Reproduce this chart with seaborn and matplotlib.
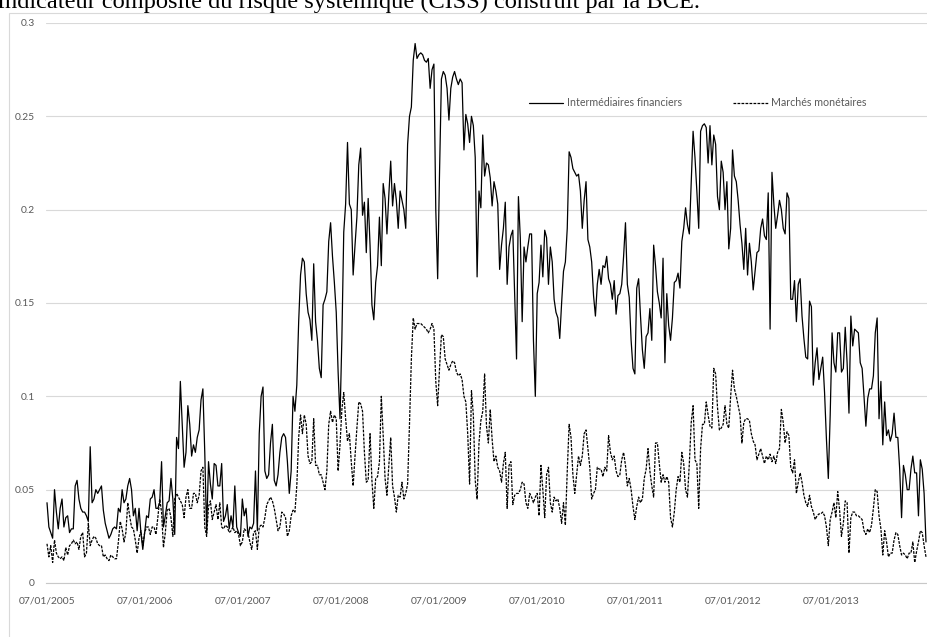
import pandas as pd
import matplotlib
matplotlib.use("Agg")
import matplotlib.pyplot as plt
import matplotlib.dates as mdates
from matplotlib.patches import Rectangle
import seaborn as sns

# CISS sub-indices, weekly values (Friday) from 07/01/2005
fin_2005 = [0.043, 0.030, 0.027, 0.024, 0.050, 0.038, 0.029, 0.040, 0.045, 0.030,
            0.035, 0.036, 0.027, 0.029, 0.029, 0.052, 0.055, 0.045, 0.040, 0.038,
            0.038, 0.036, 0.033, 0.073, 0.043, 0.045, 0.050, 0.048, 0.050, 0.052,
            0.039, 0.032, 0.028, 0.024, 0.026, 0.029, 0.030, 0.029, 0.040, 0.038,
            0.050, 0.043, 0.045, 0.052, 0.056, 0.050, 0.036, 0.040, 0.028, 0.040,
            0.027, 0.018]
fin_2006 = [0.027, 0.036, 0.035, 0.045, 0.046, 0.050, 0.040, 0.040, 0.043, 0.065,
            0.030, 0.036, 0.043, 0.044, 0.056, 0.045, 0.026, 0.078, 0.072, 0.108,
            0.085, 0.062, 0.070, 0.095, 0.085, 0.068, 0.074, 0.070, 0.078, 0.082,
            0.098, 0.104, 0.070, 0.027, 0.065, 0.053, 0.045, 0.064, 0.063, 0.052,
            0.052, 0.064, 0.033, 0.036, 0.042, 0.029, 0.036, 0.030, 0.052, 0.030,
            0.027, 0.025]
fin_2007 = [0.045, 0.036, 0.040, 0.025, 0.030, 0.029, 0.032, 0.060, 0.028, 0.080,
            0.100, 0.105, 0.060, 0.056, 0.058, 0.075, 0.085, 0.055, 0.052, 0.058,
            0.070, 0.078, 0.080, 0.078, 0.065, 0.048, 0.060, 0.100, 0.092, 0.106,
            0.140, 0.165, 0.174, 0.172, 0.155, 0.145, 0.141, 0.130, 0.171, 0.140,
            0.130, 0.115, 0.110, 0.149, 0.152, 0.156, 0.183, 0.193, 0.175, 0.161,
            0.145, 0.113]
fin_2008 = [0.088, 0.131, 0.188, 0.203, 0.236, 0.203, 0.200, 0.165, 0.181, 0.196,
            0.224, 0.233, 0.197, 0.204, 0.177, 0.206, 0.181, 0.149, 0.141, 0.161,
            0.170, 0.196, 0.170, 0.214, 0.206, 0.187, 0.208, 0.226, 0.202, 0.214,
            0.205, 0.190, 0.210, 0.205, 0.200, 0.190, 0.235, 0.250, 0.255, 0.280,
            0.289, 0.281, 0.283, 0.284, 0.283, 0.280, 0.279, 0.281, 0.265, 0.275,
            0.278, 0.200]
fin_2009 = [0.163, 0.220, 0.270, 0.274, 0.272, 0.265, 0.248, 0.265, 0.271, 0.274,
            0.270, 0.267, 0.270, 0.268, 0.232, 0.251, 0.246, 0.236, 0.250, 0.245,
            0.228, 0.164, 0.210, 0.201, 0.240, 0.218, 0.225, 0.224, 0.217, 0.202,
            0.215, 0.210, 0.203, 0.168, 0.181, 0.190, 0.204, 0.160, 0.180, 0.186,
            0.189, 0.155, 0.120, 0.207, 0.185, 0.140, 0.180, 0.172, 0.180, 0.187,
            0.187, 0.130]
fin_2010 = [0.100, 0.155, 0.161, 0.181, 0.164, 0.189, 0.185, 0.160, 0.180, 0.172,
            0.152, 0.145, 0.142, 0.131, 0.150, 0.167, 0.172, 0.190, 0.231, 0.228,
            0.222, 0.220, 0.218, 0.219, 0.210, 0.190, 0.205, 0.215, 0.184, 0.180,
            0.172, 0.154, 0.143, 0.160, 0.168, 0.160, 0.170, 0.169, 0.175, 0.163,
            0.160, 0.152, 0.162, 0.144, 0.154, 0.155, 0.160, 0.175, 0.193, 0.160,
            0.153, 0.130, 0.115]
fin_2011 = [0.112, 0.158, 0.163, 0.143, 0.125, 0.115, 0.132, 0.134, 0.147, 0.130,
            0.181, 0.170, 0.156, 0.150, 0.142, 0.174, 0.118, 0.155, 0.138, 0.130,
            0.142, 0.161, 0.162, 0.166, 0.158, 0.183, 0.190, 0.201, 0.192, 0.187,
            0.215, 0.242, 0.228, 0.210, 0.190, 0.242, 0.245, 0.246, 0.244, 0.225,
            0.245, 0.224, 0.240, 0.235, 0.207, 0.200, 0.226, 0.220, 0.200, 0.215,
            0.179, 0.190]
fin_2012 = [0.232, 0.218, 0.215, 0.205, 0.192, 0.182, 0.168, 0.190, 0.165, 0.182,
            0.172, 0.157, 0.167, 0.177, 0.178, 0.190, 0.195, 0.186, 0.184, 0.209,
            0.136, 0.220, 0.203, 0.190, 0.197, 0.205, 0.200, 0.190, 0.187, 0.209,
            0.206, 0.152, 0.152, 0.162, 0.140, 0.160, 0.163, 0.143, 0.131, 0.121,
            0.120, 0.151, 0.148, 0.106, 0.118, 0.126, 0.109, 0.115, 0.121, 0.102,
            0.077, 0.056]
fin_2013 = [0.090, 0.134, 0.118, 0.113, 0.134, 0.134, 0.113, 0.115, 0.137, 0.118,
            0.091, 0.143, 0.127, 0.136, 0.135, 0.134, 0.118, 0.115, 0.100, 0.084,
            0.099, 0.104, 0.104, 0.111, 0.134, 0.142, 0.088, 0.108, 0.074, 0.097,
            0.079, 0.082, 0.076, 0.080, 0.091, 0.078, 0.078, 0.061, 0.035, 0.063,
            0.058, 0.050, 0.050, 0.061, 0.068, 0.059, 0.059, 0.036, 0.066, 0.061,
            0.048, 0.022]

mon_2005 = [0.021, 0.014, 0.020, 0.011, 0.023, 0.016, 0.014, 0.013, 0.014, 0.012,
            0.019, 0.015, 0.020, 0.021, 0.023, 0.021, 0.022, 0.018, 0.025, 0.027,
            0.014, 0.016, 0.032, 0.020, 0.023, 0.025, 0.024, 0.021, 0.020, 0.020,
            0.014, 0.015, 0.013, 0.012, 0.015, 0.014, 0.013, 0.013, 0.022, 0.033,
            0.029, 0.022, 0.027, 0.043, 0.036, 0.030, 0.029, 0.023, 0.016, 0.024,
            0.028, 0.020]
mon_2006 = [0.027, 0.030, 0.030, 0.026, 0.030, 0.030, 0.026, 0.035, 0.045, 0.038,
            0.019, 0.027, 0.039, 0.040, 0.035, 0.025, 0.045, 0.048, 0.046, 0.044,
            0.042, 0.035, 0.046, 0.050, 0.040, 0.040, 0.048, 0.048, 0.043, 0.047,
            0.060, 0.062, 0.030, 0.025, 0.041, 0.044, 0.034, 0.038, 0.042, 0.034,
            0.043, 0.030, 0.029, 0.031, 0.030, 0.027, 0.028, 0.030, 0.027, 0.028,
            0.026, 0.020]
mon_2007 = [0.022, 0.029, 0.028, 0.027, 0.022, 0.018, 0.027, 0.028, 0.018, 0.030,
            0.031, 0.030, 0.035, 0.042, 0.044, 0.046, 0.044, 0.040, 0.034, 0.028,
            0.030, 0.038, 0.037, 0.035, 0.025, 0.028, 0.036, 0.039, 0.038, 0.052,
            0.078, 0.090, 0.080, 0.090, 0.085, 0.068, 0.064, 0.065, 0.088, 0.063,
            0.063, 0.058, 0.058, 0.054, 0.050, 0.060, 0.085, 0.092, 0.086, 0.090,
            0.088, 0.060]
mon_2008 = [0.074, 0.093, 0.102, 0.088, 0.076, 0.080, 0.065, 0.052, 0.068, 0.083,
            0.097, 0.096, 0.092, 0.070, 0.054, 0.055, 0.080, 0.055, 0.040, 0.056,
            0.057, 0.065, 0.100, 0.079, 0.056, 0.047, 0.063, 0.078, 0.052, 0.046,
            0.038, 0.047, 0.046, 0.054, 0.045, 0.048, 0.053, 0.085, 0.120, 0.142,
            0.136, 0.139, 0.139, 0.139, 0.138, 0.137, 0.136, 0.134, 0.136, 0.139,
            0.136, 0.108]
mon_2009 = [0.095, 0.115, 0.133, 0.132, 0.120, 0.117, 0.114, 0.117, 0.119, 0.118,
            0.113, 0.111, 0.112, 0.109, 0.100, 0.097, 0.080, 0.053, 0.103, 0.090,
            0.055, 0.045, 0.075, 0.087, 0.092, 0.112, 0.084, 0.075, 0.093, 0.077,
            0.065, 0.068, 0.062, 0.060, 0.054, 0.064, 0.070, 0.040, 0.063, 0.065,
            0.042, 0.047, 0.048, 0.048, 0.050, 0.054, 0.053, 0.043, 0.040, 0.048,
            0.046, 0.043]
mon_2010 = [0.046, 0.048, 0.036, 0.063, 0.050, 0.035, 0.058, 0.062, 0.043, 0.038,
            0.046, 0.044, 0.045, 0.040, 0.032, 0.043, 0.031, 0.060, 0.085, 0.078,
            0.058, 0.048, 0.058, 0.068, 0.063, 0.068, 0.080, 0.082, 0.072, 0.062,
            0.045, 0.048, 0.050, 0.062, 0.061, 0.061, 0.057, 0.062, 0.060, 0.079,
            0.070, 0.066, 0.068, 0.060, 0.057, 0.058, 0.066, 0.070, 0.063, 0.052,
            0.056, 0.050, 0.041]
mon_2011 = [0.034, 0.041, 0.046, 0.043, 0.045, 0.056, 0.061, 0.072, 0.060, 0.052,
            0.046, 0.075, 0.075, 0.064, 0.054, 0.058, 0.054, 0.057, 0.054, 0.035,
            0.030, 0.038, 0.050, 0.057, 0.054, 0.070, 0.064, 0.050, 0.046, 0.064,
            0.086, 0.095, 0.066, 0.064, 0.040, 0.072, 0.085, 0.085, 0.097, 0.090,
            0.084, 0.083, 0.115, 0.112, 0.094, 0.082, 0.083, 0.085, 0.095, 0.085,
            0.083, 0.100]
mon_2012 = [0.114, 0.104, 0.100, 0.095, 0.090, 0.075, 0.086, 0.088, 0.088, 0.087,
            0.080, 0.076, 0.074, 0.066, 0.069, 0.072, 0.068, 0.064, 0.068, 0.066,
            0.069, 0.065, 0.068, 0.064, 0.070, 0.072, 0.093, 0.086, 0.075, 0.081,
            0.079, 0.062, 0.059, 0.066, 0.048, 0.054, 0.059, 0.054, 0.047, 0.043,
            0.041, 0.047, 0.041, 0.038, 0.034, 0.036, 0.037, 0.037, 0.038, 0.036,
            0.030, 0.020]
mon_2013 = [0.034, 0.038, 0.043, 0.035, 0.049, 0.039, 0.025, 0.032, 0.044, 0.043,
            0.016, 0.035, 0.038, 0.038, 0.036, 0.036, 0.035, 0.034, 0.028, 0.026,
            0.029, 0.027, 0.031, 0.040, 0.050, 0.049, 0.036, 0.029, 0.015, 0.028,
            0.022, 0.014, 0.016, 0.016, 0.023, 0.027, 0.026, 0.020, 0.015, 0.016,
            0.015, 0.013, 0.016, 0.016, 0.022, 0.011, 0.017, 0.022, 0.028, 0.027,
            0.020, 0.014]

series_names = ["Intermédiaires financiers", "Marchés monétaires"]
year_ticks = ["2005", "2006", "2007", "2008", "2009", "2010", "2011", "2012", "2013"]
y_ticks = [0, 0.05, 0.1, 0.15, 0.2, 0.25, 0.3]
y_labels = ["0", "0.05", "0.1", "0.15", "0.2", "0.25", "0.3"]
caption = "Indicateur composite du risque systémique (CISS) construit par la BCE."


def main():
    fin = fin_2005 + fin_2006 + fin_2007 + fin_2008 + fin_2009 + fin_2010 + fin_2011 + fin_2012 + fin_2013
    mon = mon_2005 + mon_2006 + mon_2007 + mon_2008 + mon_2009 + mon_2010 + mon_2011 + mon_2012 + mon_2013
    dates = pd.date_range("2005-01-07", periods=len(fin), freq="W-FRI")

    df = pd.concat([
        pd.DataFrame({"date": dates, "value": fin, "series": series_names[0]}),
        pd.DataFrame({"date": dates, "value": mon, "series": series_names[1]}),
    ], ignore_index=True)

    sns.set_style("white")
    plt.rcParams["font.family"] = ["Lato", "DejaVu Sans"]

    W, H = 928, 637
    fig = plt.figure(figsize=(W / 100, H / 100), dpi=100)
    fig.patch.set_facecolor("white")

    # plot area in pixels: left 46, top 23, bottom 583, runs off the right edge
    ax = fig.add_axes([46 / W, 1 - 583 / H, (W - 46) / W, (583 - 23) / H])

    sns.lineplot(data=df, x="date", y="value", style="series",
                 style_order=series_names,
                 dashes={series_names[0]: "", series_names[1]: (2.2, 1.0)},
                 color="black", linewidth=0.9, ax=ax)

    # 98 px per year on the date axis
    px_per_day = 98 / 365.25
    x0 = mdates.date2num(pd.Timestamp("2005-01-07")) - 1 / px_per_day
    ax.set_xlim(x0, x0 + (W - 46) / px_per_day)
    ax.set_ylim(0, 0.3)

    ax.set_xticks([mdates.date2num(pd.Timestamp(f"{y}-01-07")) for y in year_ticks])
    ax.xaxis.set_major_formatter(mdates.DateFormatter("%d/%m/%Y"))
    ax.set_yticks(y_ticks)
    ax.set_yticklabels(y_labels)
    ax.set_xlabel("")
    ax.set_ylabel("")

    ax.tick_params(axis="x", colors="#595959", labelsize=7.4, length=4,
                   width=0.8, direction="out", pad=6, color="#c8c8c8")
    ax.tick_params(axis="y", colors="#595959", labelsize=7.4, length=0, pad=8)
    ax.yaxis.grid(True, color="#d9d9d9", linewidth=0.8)
    ax.set_axisbelow(True)
    for s in ["top", "right", "left"]:
        ax.spines[s].set_visible(False)
    ax.spines["bottom"].set_color("#c8c8c8")
    ax.spines["bottom"].set_linewidth(0.8)

    handles, labels = ax.get_legend_handles_labels()
    ax.legend(handles, labels, loc="center left", ncol=2, frameon=False,
              bbox_to_anchor=(529 / W, 1 - 103 / H), bbox_transform=fig.transFigure,
              borderpad=0, borderaxespad=0, handlelength=3.2, handletextpad=0.35,
              columnspacing=4.8, labelcolor="#595959", fontsize=7.7)

    # chart frame, cut by the right and bottom edges of the page
    fig.add_artist(Rectangle((9 / W, -0.1), 1.5, 0.1 + 1 - 13 / H,
                             transform=fig.transFigure, fill=False,
                             edgecolor="#d9d9d9", linewidth=0.8))

    # document caption above the chart, cut at the top as in the source page
    fig.text(-3 / W, 1 - 8 / H, caption, family="Liberation Serif",
             fontsize=17.6, color="black", va="baseline", ha="left")

    fig.savefig("out.png", dpi=100)
    plt.close(fig)


if __name__ == "__main__":
    main()
